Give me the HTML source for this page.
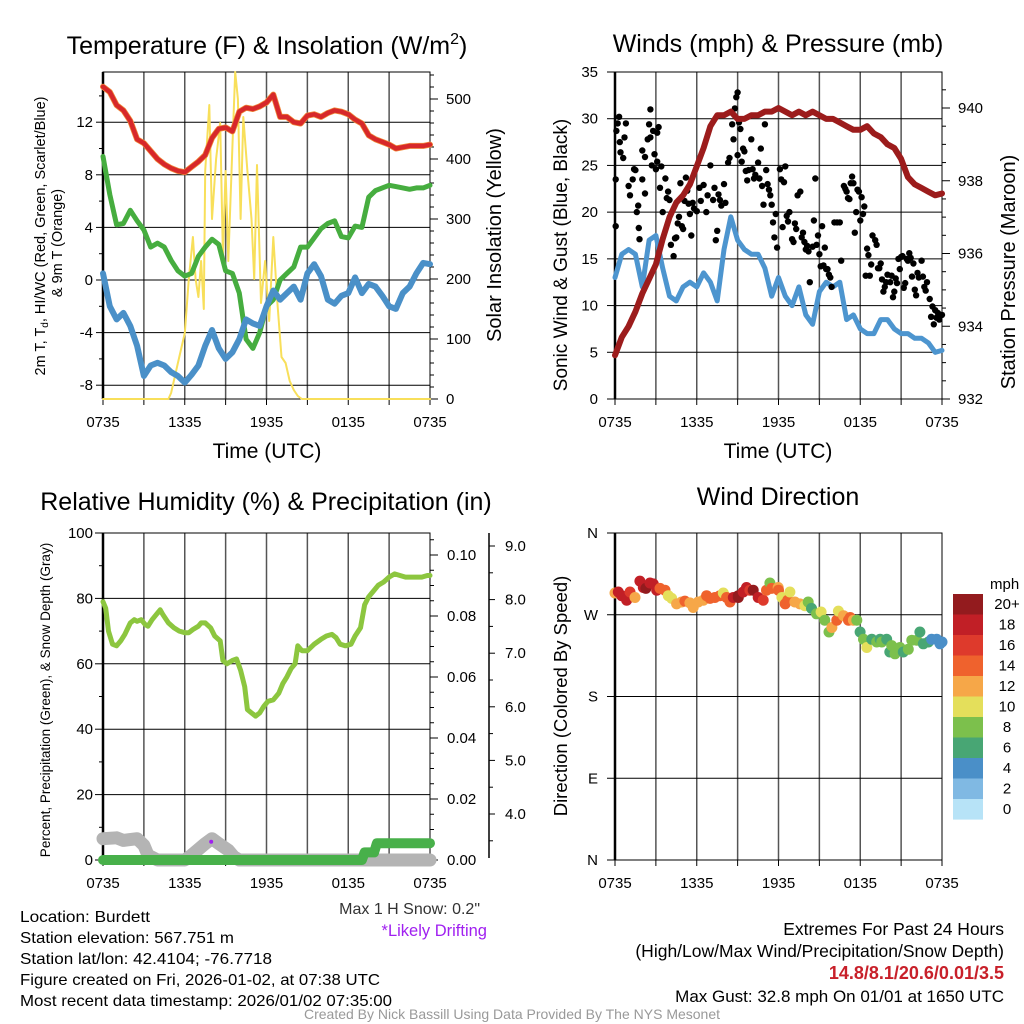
<!DOCTYPE html>
<html><head><meta charset="utf-8"><style>
html,body{margin:0;padding:0;background:#fff;}
svg{display:block;font-family:"Liberation Sans",sans-serif;}
</style></head><body>
<svg id="fig" width="1024" height="1024" viewBox="0 0 1024 1024" xmlns="http://www.w3.org/2000/svg">
<rect width="1024" height="1024" fill="#fff"/>
<text x="267" y="54" font-size="25" text-anchor="middle">Temperature (F) &amp; Insolation (W/m<tspan font-size="16" dy="-10">2</tspan><tspan dy="10">)</tspan></text>
<text x="778" y="52" font-size="25" text-anchor="middle">Winds (mph) &amp; Pressure (mb)</text>
<text x="266" y="510" font-size="25" text-anchor="middle">Relative Humidity (%) &amp; Precipitation (in)</text>
<text x="778" y="505" font-size="25" text-anchor="middle">Wind Direction</text>
<text x="267" y="458" font-size="21" text-anchor="middle">Time (UTC)</text>
<text x="778" y="458" font-size="21" text-anchor="middle">Time (UTC)</text>
<text transform="translate(45,236) rotate(-90)" font-size="14.5" text-anchor="middle">2m T, T<tspan font-size="10" dy="3">d</tspan><tspan dy="-3">, HI/WC (Red, Green, Scarlet/Blue)</tspan></text>
<text transform="translate(62,243) rotate(-90)" font-size="14.5" text-anchor="middle">&amp; 9m T (Orange)</text>
<text transform="translate(501,235) rotate(-90)" font-size="20" text-anchor="middle">Solar Insolation (Yellow)</text>
<text transform="translate(567,255) rotate(-90)" font-size="19" text-anchor="middle">Sonic Wind &amp; Gust (Blue, Black)</text>
<text transform="translate(1015,272) rotate(-90)" font-size="20" text-anchor="middle">Station Pressure (Maroon)</text>
<text transform="translate(50,700) rotate(-90)" font-size="13.5" text-anchor="middle">Percent, Precipitation (Green), &amp; Snow Depth (Gray)</text>
<text transform="translate(567,696) rotate(-90)" font-size="18.5" text-anchor="middle">Direction (Colored By Speed)</text>
<g font-size="16">
<text x="20" y="922" textLength="130" lengthAdjust="spacingAndGlyphs">Location: Burdett</text>
<text x="20" y="943" textLength="214" lengthAdjust="spacingAndGlyphs">Station elevation: 567.751 m</text>
<text x="20" y="964" textLength="252" lengthAdjust="spacingAndGlyphs">Station lat/lon: 42.4104; -76.7718</text>
<text x="20" y="985" textLength="360" lengthAdjust="spacingAndGlyphs">Figure created on Fri, 2026-01-02, at 07:38 UTC</text>
<text x="20" y="1006" textLength="372" lengthAdjust="spacingAndGlyphs">Most recent data timestamp: 2026/01/02 07:35:00</text>
</g>
<text x="480" y="914" font-size="16" text-anchor="end" fill="#333">Max 1 H Snow: 0.2"</text>
<text x="487" y="936" font-size="16.5" text-anchor="end" fill="#a020f0">*Likely Drifting</text>
<g font-size="17.5" text-anchor="end">
<text x="1004" y="935">Extremes For Past 24 Hours</text>
<text x="1004" y="957">(High/Low/Max Wind/Precipitation/Snow Depth)</text>
<text x="1004" y="979" font-size="18" fill="#c8202a" font-weight="bold">14.8/8.1/20.6/0.01/3.5</text>
<text x="1004" y="1002" font-size="17">Max Gust: 32.8 mph On 01/01 at 1650 UTC</text>
</g>
<text x="512" y="1019" font-size="14" fill="#999" text-anchor="middle">Created By Nick Bassill Using Data Provided By The NYS Mesonet</text>
</svg>
<script>
// ---------- data ----------
const timeLabels=["0735","1335","1935","0135","0735"];
const tHalf=[0,0.5,1,1.5,2,2.5,3,3.5,4,4.5,5,5.5,6,6.5,7,7.5,8,8.5,9,9.5,10,10.5,11,11.5,12,12.5,13,13.5,14,14.5,15,15.5,16,16.5,17,17.5,18,18.5,19,19.5,20,20.5,21,21.5,22,22.5,23,23.5,24];
const tempVals=[14.7,14.3,13.3,12.9,12.1,10.7,10.4,9.8,9.2,8.8,8.5,8.3,8.2,8.6,9.0,9.5,10.8,11.5,11.6,11.3,12.8,13.1,13.0,13.2,13.5,14.1,12.4,12.4,12.0,11.9,12.5,12.6,12.4,12.7,12.9,12.8,12.6,12.2,11.9,11.0,10.7,10.5,10.3,10.0,10.1,10.2,10.2,10.2,10.3];
const dewVals=[9.4,6.5,4.2,4.3,5.3,4.5,3.8,2.5,2.8,2.5,1.5,0.7,0.3,0.5,1.8,2.5,3.1,2.7,0.7,0.5,-1.0,-4.5,-5.2,-4.0,-2.0,-1.5,0.0,0.5,1.0,2.5,2.5,3.2,3.9,4.3,4.5,3.3,3.2,4.1,4.0,6.3,6.8,7.0,7.2,7.1,7.0,6.9,7.0,7.0,7.2];
const chillVals=[0.5,-2,-3,-2.5,-3.5,-5,-7.3,-6.5,-6.3,-6.5,-7,-7.3,-7.8,-7.2,-6.5,-5.0,-3.8,-5.2,-6,-5.5,-4.5,-3.0,-3.3,-3.5,-2.0,-0.8,-1.5,-1.0,-0.5,-1.5,0.5,1.2,0.3,-1.5,-1.8,-1.2,-1.0,0.2,-1.0,-0.3,-0.5,-1.2,-2.0,-2.2,-1.0,-0.5,0.5,1.3,1.2];
const solarT=[0,4.8,5,5.5,6,6.3,6.6,6.8,7,7.2,7.4,7.5,7.8,8,8.3,8.6,8.8,9,9.2,9.5,9.7,9.9,10.1,10.3,10.6,10.9,11.1,11.3,11.6,11.9,12.2,12.5,12.8,13.1,13.4,13.7,14.0,14.3,14.6,24];
const solarVals=[0,0,10,60,110,200,270,200,170,230,150,380,490,300,400,460,240,380,230,420,545,500,300,470,380,300,200,390,160,230,130,270,160,70,60,30,15,5,0,0];
const windVals=[13,15.5,16,15.5,12,17,17.5,14,11,10.5,12,12.5,12,13.5,12.5,10.5,16,19.5,17,16,15.5,15.5,14,11,13,11,10,12,9,8,11.5,12.5,12,12.5,8.5,9,7.5,7,7,8.5,8.5,7.5,7,7,6.5,6.5,6,5,5.2];
const presVals=[933.2,933.7,934.0,934.4,934.9,935.3,935.7,936.4,937.0,937.4,937.6,937.9,938.4,938.9,939.5,939.8,939.8,939.9,939.7,939.7,939.8,939.8,939.9,939.9,940.0,939.9,939.8,939.9,939.8,939.9,939.8,939.7,939.7,939.6,939.5,939.4,939.4,939.5,939.3,939.2,939.0,938.9,938.6,938.1,937.9,937.8,937.7,937.6,937.65];
const gustT=[0.05,0.05,0.1,0.2,0.3,0.35,0.4,0.6,0.7,0.8,1.0,1.1,1.3,1.4,1.5,1.6,1.7,1.75,1.8,2.0,2.0,2.2,2.2,2.4,2.5,2.6,2.6,2.7,2.8,2.9,3.0,3.1,3.1,3.2,3.3,3.4,3.5,3.7,3.8,3.9,4.0,4.1,4.3,4.4,4.5,4.6,4.7,4.8,4.9,5.0,5.1,5.2,5.3,5.4,5.5,5.6,5.7,5.8,6.0,6.2,6.3,6.5,6.7,6.8,7.0,7.2,7.3,7.4,7.5,7.6,7.7,7.8,8.0,8.1,8.3,8.4,8.6,8.7,8.8,8.9,9.0,9.0,9.1,9.2,9.3,9.4,9.5,9.6,9.7,9.8,10,10.1,10.2,10.3,10.5,10.6,10.7,10.8,10.9,11.0,11.1,11.2,11.3,11.4,11.5,11.6,11.7,11.8,11.9,12.1,12.2,12.3,12.4,12.5,12.6,12.7,12.8,13.0,13.1,13.2,13.3,13.4,13.6,13.7,13.8,13.9,14.0,14.1,14.2,14.3,14.5,14.6,14.7,14.8,14.9,15.0,15.1,15.2,15.3,15.4,15.5,15.6,15.7,15.8,15.9,16.1,16.3,16.5,16.6,16.8,16.9,17.0,17.1,17.2,17.3,17.4,17.5,17.6,17.7,17.8,17.9,18.0,18.1,18.2,18.3,18.4,18.5,18.6,18.7,18.8,18.9,19.1,19.2,19.3,19.4,19.5,19.6,19.7,19.8,19.9,20.0,20.2,20.3,20.4,20.5,20.6,20.7,20.8,20.9,21.0,21.1,21.2,21.3,21.4,21.5,21.6,21.7,21.8,21.9,22.0,22.1,22.2,22.3,22.5,22.6,22.7,22.8,22.9,23.1,23.2,23.3,23.4,23.5,23.6,23.7,23.8,23.9,24];
const gustVals=[18.5,23.5,28.7,29.5,30.2,27.5,26.4,25.8,28,29.5,22.8,21.8,23.5,24.6,24.5,20,20.7,18.3,17.1,26.6,23.5,25.9,22,27.8,29.4,31,28,25,28.7,26.2,24.6,28.5,25.4,29.1,22.6,24.9,20,23.6,21.5,22.2,21.3,16.5,15.3,17.2,17.3,18.8,19.5,23.1,18.5,18.2,21.2,23.7,22.3,20.9,19.8,17.5,21,20.4,20.1,22.6,21.2,22.9,20,21.8,25,21.3,22.6,17,18,21.9,21.3,20.7,23,21,25.3,25.8,29.4,27.8,31.1,32.3,32.8,26.1,29.6,28.9,25.4,26.8,26.5,24.4,23.4,24.5,27.8,24.6,23.6,24.0,25.3,23.6,26.8,22.8,20.8,29.4,24.5,23.0,22.4,21.8,20.8,18.9,17.3,19.8,16.2,24.6,23.5,18.4,23.2,24.9,19.6,19.0,20.0,17.1,16.8,18.8,18.2,21.8,22.2,17.3,17.8,16.8,16.0,16.4,15.8,12.5,16.3,19.1,23.6,16.5,17.5,15.5,14.2,18.5,14.3,16.2,13.9,13.9,13.3,13.0,12.0,18.9,18.9,18.9,14.8,22.8,22.5,22.2,21.5,21.4,23.1,23.8,23.1,17.8,20.0,22.4,22.2,19.1,21.6,19.8,20.6,13.2,16.1,15.4,13.2,14.4,17.5,17.0,16.5,14.0,14.0,14.5,12.8,11.5,12.0,12.5,13.3,12.5,13.2,10.9,11.5,12.9,12.4,15.0,13.9,15.2,15.3,11.9,12.4,15.0,14.8,15.6,15.1,13.1,14.5,11.7,11.1,13.5,13.0,14.8,13.1,12.0,11.6,12.5,10.7,8.8,9.9,8.0,9.5,8.7,9.2,8.5,9.0,9.0];
const rhT=[0,0.2,0.4,0.7,1,1.3,1.6,2,2.3,2.5,2.8,3.1,3.3,3.6,4,4.2,4.4,4.8,5.2,5.6,6,6.3,6.6,7,7.2,7.5,7.9,8.2,8.6,8.8,9.1,9.5,9.8,10.1,10.4,10.6,10.9,11.2,11.5,11.8,12.1,12.5,12.9,13.2,13.5,13.8,14.1,14.3,14.6,15,15.5,16,16.4,16.8,17.1,17.4,17.8,18.2,18.5,18.9,19.2,19.5,19.8,20.2,20.6,21,21.4,21.8,22.2,22.6,23,23.4,23.8,24];
const rhVals=[79,77,70,66,65.5,67,69,72.5,73.5,73,73.5,72,71.5,73.5,75.5,76.5,75,72.5,71,70,69.5,69.5,70.5,71.5,72.5,72.5,71,68.5,67,61,60,61,61.5,58,53,46,45,44,45,47,48.5,49,51,54,56,58.5,60,65.5,64,64,66,67.5,68.5,69,68,66,65.5,66,68.5,71,78,80.5,82,84,85,86.5,87.5,87,86.5,86.5,86.5,86.5,87,87];
const precipT=[0,19.0,19.2,19.9,20.1,24];
const precipVals=[0,0,0.0025,0.0025,0.0055,0.0055];
const snowT=[0,1,1.5,2.5,3.0,3.3,4,6,6.5,7.5,8,8.5,9.2,9.6,10,24];
const snowVals=[6.5,6.8,6,6.5,4.5,1.5,0,0,1.5,5,6.5,5,3,1,0,0];
const driftT=[7.94];
const driftVals=[5.6];
const dirT=[0,0.24,0.49,0.86,1.1,1.47,1.83,2.08,2.27,2.57,2.81,3.06,3.3,3.67,3.91,4.16,4.52,4.89,5.13,5.5,5.74,6.11,6.48,6.72,6.97,7.33,7.7,7.95,8.19,8.44,8.68,9.05,9.05,9.41,9.65,9.9,10.14,10.51,10.88,11.12,11.37,11.49,11.98,12.0,12.25,12.49,12.68,12.84,13.2,13.57,13.94,14.18,14.42,14.79,15.13,15.4,15.71,15.92,16.28,16.4,16.77,17.14,17.26,17.5,17.75,17.99,18.24,18.48,18.85,19.21,19.46,19.58,19.94,20.17,20.31,20.55,20.92,21.16,21.53,21.78,22.14,22.38,22.63,23.0,23.24,23.61,23.85,24.0];
const dirVals=[294,295,291,286,295,289,307,300,299,305,304,297,299,297,291,288,282,284,285,283,278,284,286,291,288,289,291,294,289,284,289,291,289,295,300,297,297,289,286,297,305,299,300,297,289,282,286,295,284,282,280,284,277,271,273,264,251,256,264,274,269,264,267,264,264,251,243,234,243,240,243,240,243,229,236,227,234,229,232,242,242,251,238,240,243,243,238,240];
const dirSpeed=[12.5,18.5,18.5,18.5,16.5,12.5,18.5,18.5,21,18.5,18.5,18.5,14.5,14.5,10.5,10.5,12.5,12.5,14.5,12.5,12.5,12.5,12.5,14.5,14.5,14.5,14.5,10.5,14.5,14.5,18.5,21,21,18.5,18.5,16.5,21,18.5,16.5,14.5,8.5,14.5,12.5,14.5,10.5,14.5,14.5,10.5,12.5,12.5,10.5,8.5,6.5,8.5,10.5,8.5,8.5,12.5,14.5,10.5,12.5,14.5,14.5,12.5,8.5,6.5,8.5,10.5,6.5,8.5,6.5,8.5,6.5,6.5,8.5,8.5,8.5,6.5,8.5,8.5,8.5,6.5,6.5,6.5,4.5,4.5,4.5,4.5];
const speedBinLabels=["20+","18","16","14","12","10","8","6","4","2","0"];
const speedBinColors=["#931b1e","#c11f26","#de3a2c","#ef622d","#f6a748","#e4df5b","#7cc04c","#48a674","#4a8fc8","#80b9e3","#b7e3f7"];

// ---------- helpers ----------
const svg=document.getElementById('fig');
const NS='http://www.w3.org/2000/svg';
function mk(tag,attrs,parent){const e=document.createElementNS(NS,tag);for(const k in attrs)e.setAttribute(k,attrs[k]);(parent||svg).appendChild(e);return e;}
function xT(P,t){return P.x0+t*(P.x1-P.x0)/24;}
function pathFrom(P,ts,vs,fy){let d='';for(let i=0;i<ts.length;i++){d+=(i?'L':'M')+xT(P,ts[i]).toFixed(1)+','+fy(vs[i]).toFixed(1);}return d;}
function drawLine(P,ts,vs,fy,color,w,name){
  const e=mk('path',{d:pathFrom(P,ts,vs,fy),fill:'none',stroke:color,'stroke-width':w,'stroke-linejoin':'round','stroke-linecap':'round'});
  
  
  return e;}
function frame(P,name,hLines,fy){
  const g=mk('g',{});
  
  
  for(let h=3;h<24;h+=3){const l=mk('line',{x1:xT(P,h),x2:xT(P,h),y1:P.y0,y2:P.y1,stroke:'#555','stroke-width':1.5},g);
    
    }
  hLines.forEach(v=>{const l=mk('line',{x1:P.x0,x2:P.x1,y1:fy(v),y2:fy(v),stroke:'#000','stroke-width':1},g);
    
    });
  const r=mk('rect',{x:P.x0,y:P.y0,width:P.x1-P.x0,height:P.y1-P.y0,fill:'none',stroke:'#000','stroke-width':1},g);
  
  
  const lb=mk('line',{x1:P.x0,x2:P.x0,y1:P.y0,y2:P.y1,stroke:'#000','stroke-width':2.5},g);
  
  
  for(let h=0;h<=24;h+=3){const tk=mk('line',{x1:xT(P,h),x2:xT(P,h),y1:P.y1,y2:P.y1+6,stroke:'#000'},g);
    
    }
  timeLabels.forEach((s,i)=>{const t=mk('text',{x:xT(P,i*6),y:P.y1+28,'font-size':15,'text-anchor':'middle'},g);t.textContent=s;
    
    });
}
function yTicks(x,vals,labels,fy,side,len,fs,lx){
  vals.forEach((v,i)=>{const y=fy(v);
    const l=mk('line',{x1:x,x2:x+(side<0?-len:len),y1:y,y2:y,stroke:'#000'});
    
    
    if(labels&&labels[i]!==undefined){const t=mk('text',{x:lx,y:y+5,'font-size':fs,'text-anchor':side<0?'end':'start'});t.textContent=labels[i];
      
      }});
}

// ---------- Panel 1 ----------
const P1={x0:103,x1:430,y0:72,y1:399};
const fT=v=>280-v*13.15, fS=v=>399-v*0.6;
frame(P1,'temp-plot',[12,8,4,0,-4,-8],fT);
yTicks(P1.x0,[12,8,4,0,-4,-8],['12','8','4','0','-4','-8'],fT,-1,7,15,93);
yTicks(P1.x0,[14,10,6,2,-2,-6],null,fT,-1,4,15,0);
yTicks(P1.x1,[0,100,200,300,400,500],['0','100','200','300','400','500'],fS,1,8,15,446);
yTicks(P1.x1,[20,40,60,80,120,140,160,180,220,240,260,280,320,340,360,380,420,440,460,480,520,540],null,fS,1,4,15,0);
drawLine(P1,solarT,solarVals,fS,'#f8df5a',2,'solar-insolation-line');
drawLine(P1,tHalf,tempVals,fT,'#f08a3a',6,'9m-temperature-line');
drawLine(P1,tHalf,tempVals,fT,'#d7282a',4.5,'temperature-line');
drawLine(P1,tHalf,dewVals,fT,'#46ad3f',5,'dewpoint-line');
drawLine(P1,tHalf,chillVals,fT,'#4a90c8',6,'wind-chill-line');

// ---------- Panel 2 ----------
const P2={x0:615,x1:942,y0:72,y1:399};
const fW=v=>399-v*9.343, fP=v=>399-(v-932)*36.375;
frame(P2,'wind-plot',[5,10,15,20,25,30],fW);
yTicks(P2.x0,[0,5,10,15,20,25,30,35],['0','5','10','15','20','25','30','35'],fW,-1,8,15,598);
yTicks(P2.x1,[932,934,936,938,940],['932','934','936','938','940'],fP,1,8,15,958);
yTicks(P2.x1,[932.5,933,933.5,934.5,935,935.5,936.5,937,937.5,938.5,939,939.5,940.5],null,fP,1,4,15,0);
drawLine(P2,tHalf,windVals,fW,'#4d95cf',5,'sonic-wind-line');
gustT.forEach((t,i)=>{const c=mk('circle',{cx:xT(P2,t).toFixed(1),cy:fW(gustVals[i]).toFixed(1),r:3.2,fill:'#000'});
  
  });
drawLine(P2,tHalf,presVals,fP,'#9c1c1c',6,'pressure-line');

// ---------- Panel 3 ----------
const P3={x0:103,x1:430,y0:533,y1:860};
const fR=v=>860-v*3.27, fPr=v=>860-v*3050, fSn=v=>814-(v-4)*53.6;
frame(P3,'rh-plot',[20,40,60,80],fR);
yTicks(P3.x0,[0,20,40,60,80,100],['0','20','40','60','80','100'],fR,-1,8,15,93);
yTicks(P3.x0,[10,30,50,70,90],null,fR,-1,4,15,0);
yTicks(P3.x1,[0,0.02,0.04,0.06,0.08,0.1],['0.00','0.02','0.04','0.06','0.08','0.10'],fPr,1,8,15,447);
yTicks(P3.x1,[0.005,0.01,0.015,0.025,0.03,0.035,0.045,0.05,0.055,0.065,0.07,0.075,0.085,0.09,0.095,0.105],null,fPr,1,4,15,0);
const sa=mk('line',{x1:489,x2:489,y1:533,y2:858,stroke:'#000','stroke-width':1.5});


yTicks(489,[4,5,6,7,8,9],['4.0','5.0','6.0','7.0','8.0','9.0'],fSn,1,6,15,505);
yTicks(489,[3.5,4.5,5.5,6.5,7.5,8.5],null,fSn,1,4,15,0);
drawLine(P3,snowT,snowVals,fR,'#b4b4b4',13,'snow-depth-line');
drawLine(P3,precipT,precipVals,fPr,'#48b04a',10,'precipitation-line');
drawLine(P3,rhT,rhVals,fR,'#8cc63f',5,'relative-humidity-line');
driftT.forEach((t,i)=>{const c=mk('circle',{cx:xT(P3,t),cy:fR(driftVals[i]),r:2,fill:'#a020f0'});
  
  });

// ---------- Panel 4 ----------
const P4={x0:615,x1:942,y0:533,y1:860};
const fD=v=>860-v*327/360;
frame(P4,'direction-plot',[90,180,270],fD);
yTicks(P4.x0,[0,90,180,270,360],['N','E','S','W','N'],fD,-1,8,15,598);
function speedColor(s){const i=Math.min(10,Math.max(0,10-Math.floor(s/2)));return speedBinColors[i];}
dirT.forEach((t,i)=>{const c=mk('circle',{cx:xT(P4,t).toFixed(1),cy:fD(dirVals[i]).toFixed(1),r:5.5,fill:speedColor(dirSpeed[i])});
  
  });
const cbTitle=mk('text',{x:990,y:589,'font-size':15});cbTitle.textContent='mph';


speedBinLabels.forEach((lab,i)=>{const y=594+i*20.5;
  const r=mk('rect',{x:953,y:y,width:30,height:20.6,fill:speedBinColors[i]});
  
  
  const t=mk('text',{x:1007,y:y+15,'font-size':15,'text-anchor':'middle'});t.textContent=lab;
  
  });
</script>
</body></html>
